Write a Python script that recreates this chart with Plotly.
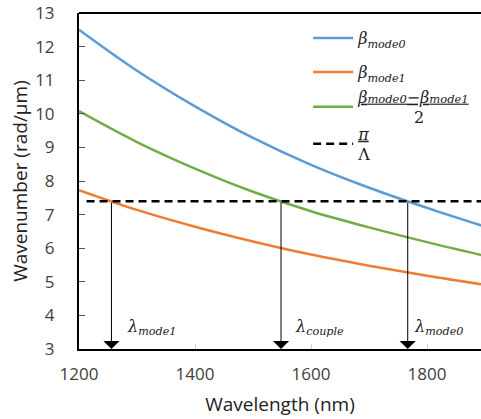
import numpy as np
import plotly.graph_objects as go

# ---- data ----
wavelength = [1200, 1300, 1400, 1500, 1600, 1700, 1800, 1900]
beta_mode0 = [12.50, 11.28, 10.22, 9.28, 8.48, 7.80, 7.20, 6.64]
beta_mode1 = [7.73, 7.14, 6.64, 6.20, 5.81, 5.48, 5.18, 4.91]
beta_avg = [10.08, 9.16, 8.37, 7.68, 7.10, 6.62, 6.18, 5.77]
pi_over_Lambda = 7.40
dash_x = [1213, 1900]

x_range = [1200, 1893]
y_range = [3, 13]
y_ticks = [3, 4, 5, 6, 7, 8, 9, 10, 11, 12, 13]
x_ticks = [1200, 1400, 1600, 1800]

blue, orange, green = "#5B9BD5", "#ED7D31", "#70AD47"
serif = "DejaVu Serif"
sans = "Open Sans"
nb = "\u00a0"

# legend row centres in pixels from top of the figure
TOP, PLOT_H = 13, 336
row_px = [38, 72, 107, 144]


def paper_y(p):
    return 1 - (p - TOP) / PLOT_H


def small(s):
    return "<span style='font-size:11.5px'>" + s + "</span>"


fig = go.Figure()
fig.add_trace(go.Scatter(x=wavelength, y=beta_mode0, mode="lines", line=dict(color=blue, width=2.5, shape="spline"),
                         name="<i>β<sub>mode0</sub></i>", legend="legend"))
fig.add_trace(go.Scatter(x=wavelength, y=beta_mode1, mode="lines", line=dict(color=orange, width=2.5, shape="spline"),
                         name="<i>β<sub>mode1</sub></i>", legend="legend2"))
fig.add_trace(go.Scatter(x=wavelength, y=beta_avg, mode="lines", line=dict(color=green, width=2.5, shape="spline"),
                         name="<u><i>β" + small("mode0") + "−β" + small("mode1") + "</i></u><br>" + nb * 11 + "2",
                         legend="legend3"))
fig.add_trace(go.Scatter(x=dash_x, y=[pi_over_Lambda] * 2, mode="lines",
                         line=dict(color="black", width=2.5, dash="8px,5px"),
                         name="<u><i>π</i></u><br>Λ", legend="legend4"))


def crossing(vals):
    v = np.array(vals)
    return float(np.interp(pi_over_Lambda, v[::-1], np.array(wavelength)[::-1]))


cross = {
    "mode1": crossing(beta_mode1),
    "couple": crossing(beta_avg),
    "mode0": crossing(beta_mode0),
}
shifts = {"mode1": 14, "couple": 12, "mode0": 4}
for key, lx in cross.items():
    fig.add_annotation(x=lx, y=y_range[0], ax=lx, ay=pi_over_Lambda, xref="x", yref="y", axref="x", ayref="y",
                       showarrow=True, arrowhead=1, arrowsize=2.7, arrowwidth=1, arrowcolor="black", text="",
                       standoff=0)
    fig.add_annotation(x=lx, y=3.63, xref="x", yref="y", text="<i>λ<sub>" + key + "</sub></i>", showarrow=False,
                       xanchor="left", xshift=shifts[key], font=dict(family=serif, size=16, color="#222"))

# top border
fig.add_shape(type="line", xref="paper", yref="paper", x0=0, x1=1, y0=1, y1=1, line=dict(color="black", width=2))

leg_common = dict(x=0.57, xanchor="left", yanchor="middle", bgcolor="rgba(0,0,0,0)",
                  font=dict(family=serif, size=16, color="#222"), itemwidth=40, valign="middle")
fig.update_layout(
    width=481, height=419,
    margin=dict(l=79, r=0, t=TOP, b=70),
    paper_bgcolor="white", plot_bgcolor="white",
    showlegend=True,
    legend=dict(y=paper_y(row_px[0]), **leg_common),
    legend2=dict(y=paper_y(row_px[1]), **leg_common),
    legend3=dict(y=paper_y(row_px[2]), **leg_common),
    legend4=dict(y=paper_y(row_px[3]), **leg_common),
    font=dict(family=sans, color="#404040"),
)
fig.update_xaxes(range=x_range, tickvals=x_ticks, ticks="inside", ticklen=5, tickcolor="#d0d0d0",
                 showline=True, linecolor="black", linewidth=2, showgrid=False, zeroline=False,
                 tickfont=dict(size=17, color="#404040", family=sans), ticklabelstandoff=9,
                 title=dict(text="Wavelength (nm)", font=dict(size=19, color="#222", family=sans), standoff=13))
fig.update_yaxes(range=y_range, tickvals=y_ticks, ticks="inside", ticklen=6, tickcolor="#555",
                 showline=True, linecolor="black", linewidth=2, showgrid=False, zeroline=False,
                 tickfont=dict(size=17, color="#404040", family=sans), ticklabelstandoff=19,
                 title=dict(text="Wavenumber (rad/μm)", font=dict(size=19, color="#222", family=sans), standoff=2))

fig.write_html("out.html")
